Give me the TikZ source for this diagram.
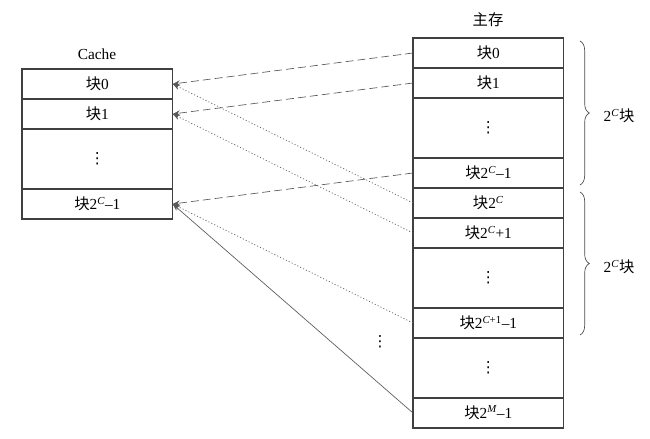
\documentclass[tikz,border=0pt]{standalone}
\usepackage{fontspec}
\setmainfont{Liberation Serif}
\newfontfamily\cjk{Noto Sans CJK SC}
\newfontfamily\dotsfont{DejaVu Sans}
\usetikzlibrary{positioning,arrows.meta,decorations.pathreplacing}

\tikzset{
	block/.style={draw=black!75, line width=0.8pt, outer sep=0pt, inner sep=0pt,
		minimum width=113pt, minimum height=22.5pt, font=\fontsize{11.5}{13}\selectfont},
	gapblock/.style={block, minimum height=45pt},
	dashlink/.style={draw=black!65, line width=0.5pt, dash pattern=on 6pt off 3pt, -{Stealth[length=5.5pt,width=4pt]}},
	dotlink/.style={draw=black!65, line width=0.5pt, dash pattern=on 0.8pt off 1.6pt, -{Stealth[length=5.5pt,width=4pt]}},
	solidlink/.style={draw=black!65, line width=0.5pt, -{Stealth[length=5.5pt,width=4pt]}},
	curly/.style={draw=black!70, line width=0.5pt, decorate, decoration={brace, amplitude=7pt}},
	label/.style={font=\fontsize{11.5}{13}\selectfont},
}
\newcommand{\kuai}{{\cjk 块}}
\newcommand{\supC}[1]{\textsuperscript{\itshape #1}}
\newcommand{\vdot}{{\dotsfont ⋮}}

\begin{document}
\begin{tikzpicture}[x=0.75pt, y=-0.75pt, node distance=0pt]
	\useasboundingbox (0,0) rectangle (650,439);

	% Draw the cache
	\node[label] (cachename) at (97,54) {Cache};
	\node[block, anchor=north west] (c0) at (22,69) {\kuai 0};
	\node[block, below=of c0] (c1) {\kuai 1};
	\node[gapblock, below=of c1] (cdots) {\vdot};
	\node[block, below=of cdots] (clast) {\kuai 2\supC{C}--1};

	% Draw the main memory
	\node[label] (memname) at (488,20) {\cjk 主存};
	\node[block, anchor=north west] (m0) at (413,38) {\kuai 0};
	\node[block, below=of m0] (m1) {\kuai 1};
	\node[gapblock, below=of m1] (mdotsA) {\vdot};
	\node[block, below=of mdotsA] (mlastA) {\kuai 2\supC{C}--1};
	\node[block, below=of mlastA] (mtwoC) {\kuai 2\supC{C}};
	\node[block, below=of mtwoC] (mtwoCone) {\kuai 2\supC{C}+1};
	\node[gapblock, below=of mtwoCone] (mdotsB) {\vdot};
	\node[block, below=of mdotsB] (mlastB) {\kuai 2\supC{C\upshape+1}--1};
	\node[gapblock, below=of mlastB] (mdotsC) {\vdot};
	\node[block, below=of mdotsC] (mend) {\kuai 2\supC{M}--1};

	% Draw the braces
	\draw[curly] (580,41) -- (580,185);
	\node[label] (groupA) at (619,116) {2\supC{C}\kuai};
	\draw[curly] (580,192) -- (580,335);
	\node[label] (groupB) at (619,267) {2\supC{C}\kuai};

	% Draw the mapping
	\draw[dashlink] (m0.west) -- (c0.east);
	\draw[dashlink] (m1.west) -- (c1.east);
	\draw[dashlink] (mlastA.west) -- (clast.east);
	\draw[dotlink] (mtwoC.west) -- (c0.east);
	\draw[dotlink] (mtwoCone.west) -- (c1.east);
	\draw[dotlink] (mlastB.west) -- (clast.east);
	\draw[solidlink] (mend.west) -- (clast.east);

	\node[label] (moredots) at (380,342) {\vdot};
\end{tikzpicture}
\end{document}
